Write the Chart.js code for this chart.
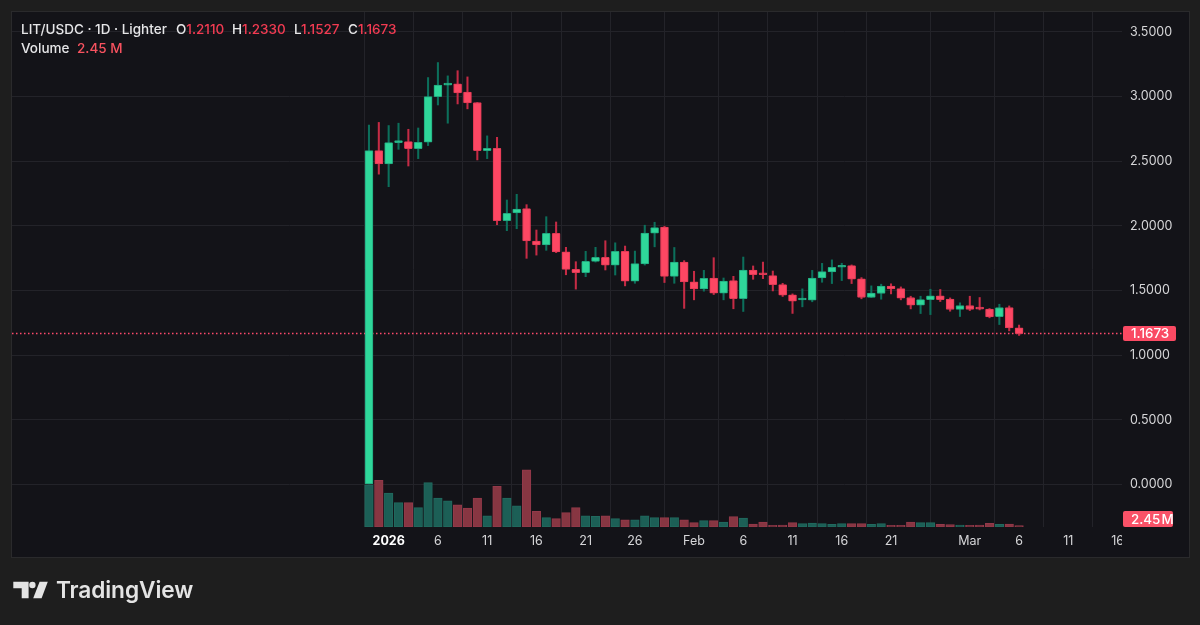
<!DOCTYPE html>
<html>
<head>
<meta charset="utf-8">
<title>LIT/USDC</title>
<script src="https://cdn.jsdelivr.net/npm/chart.js@4"></script>
<style>
  html, body { margin: 0; padding: 0; background: #1e1e1e; }
  #wrap { position: relative; width: 1200px; height: 625px; overflow: hidden; font-family: Inter, sans-serif; }
  #panel { position: absolute; left: 11px; top: 11px; width: 1177px; height: 545px; background: #131318; border: 1px solid #2a2a2c; }
  canvas { position: absolute; left: 0; top: 0; }
  .hd { position: absolute; font-size: 13.5px; font-weight: 500; line-height: 18px; color: #e6e6e8; white-space: nowrap; }
  .red { color: #f23b52; }
  .vol { color: #f7525f; }
  #brand { position: absolute; left: 56px; top: 575px; font-size: 22.7px; font-weight: 600; line-height: 30px; letter-spacing: -0.1px; color: #e4e4e4; }
  #mark { position: absolute; left: 0; top: 570px; }
</style>
</head>
<body>
<div id="wrap">
  <div id="panel"></div>
  <canvas id="chart" width="1200" height="625"></canvas>
  <span class="hd" style="left:21px;top:20px">LIT/USDC · 1D · Lighter</span>
  <span class="hd" style="left:176px;top:20px">O<span class="red">1.2110</span></span>
  <span class="hd" style="left:232px;top:20px">H<span class="red">1.2330</span></span>
  <span class="hd" style="left:294px;top:20px">L<span class="red">1.1527</span></span>
  <span class="hd" style="left:348px;top:20px">C<span class="red">1.1673</span></span>
  <span class="hd" style="left:21px;top:39px">Volume</span>
  <span class="hd vol" style="left:77px;top:39px">2.45 M</span>
  <svg id="mark" width="60" height="40" viewBox="0 570 60 40">
    <path fill="#e4e4e4" d="M13.3 581.7H28.6V598.3H21.7V588.3H13.3Z"/>
    <circle fill="#e4e4e4" cx="32.4" cy="585" r="3.2"/>
    <path fill="#e4e4e4" d="M39.6 581.7H47.8L41.6 598.3H33.2Z"/>
  </svg>
  <div id="brand">TradingView</div>
</div>
<script>
// one candle per day, 30 Dec 2025 to 6 Mar 2026
const dates = ['Dec 30','Dec 31',
  'Jan 1','Jan 2','Jan 3','Jan 4','Jan 5','Jan 6','Jan 7','Jan 8','Jan 9','Jan 10','Jan 11','Jan 12','Jan 13','Jan 14','Jan 15','Jan 16',
  'Jan 17','Jan 18','Jan 19','Jan 20','Jan 21','Jan 22','Jan 23','Jan 24','Jan 25','Jan 26','Jan 27','Jan 28','Jan 29','Jan 30','Jan 31',
  'Feb 1','Feb 2','Feb 3','Feb 4','Feb 5','Feb 6','Feb 7','Feb 8','Feb 9','Feb 10','Feb 11','Feb 12','Feb 13','Feb 14','Feb 15','Feb 16',
  'Feb 17','Feb 18','Feb 19','Feb 20','Feb 21','Feb 22','Feb 23','Feb 24','Feb 25','Feb 26','Feb 27','Feb 28',
  'Mar 1','Mar 2','Mar 3','Mar 4','Mar 5','Mar 6'];

const opens = [0.000,2.582,2.479,2.644,2.652,2.598,2.647,3.000,3.088,3.098,3.034,2.954,2.582,2.600,2.040,2.100,2.133,1.883,
  1.852,1.942,1.800,1.664,1.638,1.725,1.756,1.697,1.803,1.572,1.705,1.944,1.990,1.610,1.720,
  1.567,1.513,1.597,1.479,1.577,1.438,1.659,1.630,1.615,1.546,1.467,1.427,1.426,1.597,1.644,1.680,
  1.693,1.590,1.446,1.477,1.534,1.515,1.446,1.387,1.430,1.459,1.433,1.354,
  1.384,1.360,1.356,1.298,1.369,1.2110];
const highs = [2.780,2.800,2.776,2.794,2.747,2.757,3.147,3.263,3.160,3.200,3.152,2.954,2.696,2.685,2.200,2.244,2.164,1.968,
  2.071,2.030,1.834,1.723,1.803,1.834,1.885,1.869,1.844,1.805,2.005,2.028,1.997,1.833,1.731,
  1.649,1.656,1.754,1.597,1.610,1.759,1.690,1.720,1.651,1.556,1.474,1.513,1.656,1.710,1.737,1.711,
  1.698,1.600,1.536,1.549,1.552,1.528,1.456,1.456,1.510,1.508,1.443,1.405,
  1.456,1.446,1.361,1.394,1.381,1.2330];
const lows = [0.000,2.400,2.303,2.592,2.463,2.520,2.621,2.935,2.794,2.943,2.905,2.510,2.520,2.009,1.963,1.978,1.749,1.774,
  1.811,1.793,1.622,1.511,1.607,1.720,1.659,1.620,1.536,1.556,1.697,1.838,1.562,1.556,1.362,
  1.428,1.495,1.469,1.428,1.359,1.338,1.587,1.592,1.497,1.454,1.323,1.374,1.413,1.564,1.554,1.577,
  1.554,1.436,1.446,1.433,1.474,1.428,1.358,1.322,1.314,1.415,1.340,1.299,
  1.345,1.350,1.289,1.237,1.188,1.1527];
const closes = [2.582,2.479,2.644,2.650,2.598,2.647,3.000,3.088,3.093,3.028,2.951,2.582,2.600,2.040,2.097,2.130,1.883,1.852,
  1.942,1.798,1.664,1.638,1.725,1.756,1.697,1.803,1.572,1.708,1.944,1.987,1.610,1.720,1.567,
  1.513,1.595,1.479,1.574,1.438,1.659,1.623,1.622,1.546,1.464,1.418,1.433,1.597,1.646,1.680,1.686,
  1.588,1.446,1.480,1.534,1.513,1.441,1.387,1.430,1.459,1.430,1.353,1.384,
  1.353,1.356,1.296,1.369,1.211,1.1673];
// volume in millions
const volumes = [76,84,61,44,44,35,80,52,47,40,34,52,20,73,52,38,103,28,
  17,15,26,35,20,19,20,15,13,13,20,17,17,17,13,
  8,11.4,11.4,9,18.6,16.2,5.4,9,3,3.6,7.8,6,7.2,6,4.8,6,
  6,6,4.8,6,3,3,9,7.8,7.8,4.8,4.2,3.6,
  3,3.6,6.6,4.8,5.4,2.45];

const priceTicks = [0,0.5,1,1.5,2,2.5,3,3.5];
const timeTicks = [2,7,12,17,22,27,33,38,43,48,53,61,66,71,76];
const timeLabels = ['2026','6','11','16','21','26','Feb','6','11','16','21','Mar','6','11','16'];
const lastPrice = 1.1673;
const lastVolume = 2.45;

const UP = '#2fd79a', UP_EDGE = '#22a87f', UP_WICK = '#0c6f5b';
const DOWN = '#fd4763', DOWN_EDGE = '#e03a55', DOWN_WICK = '#c52b45';
const isUp = i => closes[i] >= opens[i];

const X_MIN = -36.24, X_MAX = 76.45;   // pane runs x=12..1122
const Y_MIN = -0.3287, Y_MAX = 3.654;  // pane runs y=12..527
const VOL_MAX = 927;

// badges on the price axis, and the cut-off of the last time label
const axisBits = {
  id: 'axisBits',
  afterDraw(chart) {
    const c = chart.ctx, a = chart.chartArea;
    c.save();
    c.fillStyle = '#131318';
    c.fillRect(a.right, a.bottom + 1, 66, 28);
    const badge = (text, cy, h, w, color) => {
      c.fillStyle = color;
      c.beginPath();
      c.roundRect(a.right + 1, cy - h / 2, w, h, 2);
      c.fill();
      c.fillStyle = '#ffffff';
      c.font = '500 13.4px Inter';
      c.textAlign = 'left';
      c.textBaseline = 'middle';
      c.fillText(text, a.right + 9, cy + 0.5);
    };
    badge(lastPrice.toFixed(4), chart.scales.y.getPixelForValue(lastPrice), 15, 53, '#fa4a63');
    badge(lastVolume.toFixed(2) + '\u200aM', a.bottom - 8, 16, 50, '#fa5268');
    c.restore();
  }
};

new Chart(document.getElementById('chart'), {
  type: 'bar',
  data: {
    labels: dates,
    datasets: [
      {
        label: 'Candles',
        order: 1,
        yAxisID: 'y',
        grouped: false,
        barThickness: 8,
        minBarLength: 2,
        borderWidth: 1,
        borderSkipped: false,
        borderRadius: 1,
        data: dates.map((d, i) => ({ x: i, y: [opens[i], closes[i]] })),
        backgroundColor: dates.map((d, i) => isUp(i) ? UP : DOWN),
        borderColor: dates.map((d, i) => isUp(i) ? UP_EDGE : DOWN_EDGE)
      },
      {
        label: 'Wicks',
        order: 2,
        yAxisID: 'y',
        grouped: false,
        barThickness: 1.4,
        borderWidth: 0,
        data: dates.map((d, i) => ({ x: i, y: [lows[i], highs[i]] })),
        backgroundColor: dates.map((d, i) => isUp(i) ? UP_WICK : DOWN_WICK)
      },
      {
        type: 'line',
        label: 'Last price',
        order: 3,
        yAxisID: 'y',
        data: [{ x: X_MIN, y: lastPrice }, { x: X_MAX, y: lastPrice }],
        borderColor: '#ff4a6c',
        borderWidth: 1.4,
        borderDash: [1.5, 2.5],
        pointRadius: 0
      },
      {
        label: 'Volume',
        order: 4,
        yAxisID: 'yVol',
        grouped: false,
        barThickness: 8.6,
        borderWidth: 1,
        borderSkipped: false,
        data: dates.map((d, i) => ({ x: i, y: volumes[i] })),
        backgroundColor: dates.map((d, i) => isUp(i) ? '#1c5f56' : '#873642'),
        borderColor: dates.map((d, i) => isUp(i) ? '#216a5f' : '#94394a')
      }
    ]
  },
  options: {
    animation: false,
    responsive: false,
    events: [],
    layout: { padding: { left: 12, top: 12, right: 12, bottom: 69 } },
    plugins: { legend: { display: false }, tooltip: { enabled: false } },
    scales: {
      x: {
        type: 'linear',
        min: X_MIN,
        max: X_MAX,
        offset: false,
        grid: { color: '#232329', lineWidth: 1, drawTicks: false },
        border: { display: false },
        afterBuildTicks: s => { s.ticks = timeTicks.map(v => ({ value: v })); },
        afterFit: s => { s.height = 29; s.paddingLeft = 0; s.paddingRight = 0; },
        ticks: {
          autoSkip: false,
          maxRotation: 0,
          padding: 7,
          color: ctx => ctx.index === 0 ? '#ffffff' : '#d6d6d8',
          font: ctx => ({ family: 'Inter', size: 12.5, weight: ctx.index === 0 ? '700' : '400' }),
          callback: (v, i) => timeLabels[i]
        }
      },
      y: {
        position: 'right',
        min: Y_MIN,
        max: Y_MAX,
        grid: { color: '#232329', lineWidth: 1, drawTicks: false },
        border: { display: false },
        afterBuildTicks: s => { s.ticks = priceTicks.map(v => ({ value: v })); },
        afterFit: s => { s.width = 66; s.paddingTop = 0; s.paddingBottom = 0; },
        ticks: {
          padding: 8,
          color: '#d6d6d8',
          font: { family: 'Inter', size: 12.5 },
          callback: v => v.toFixed(4)
        }
      },
      yVol: {
        display: false,
        min: 0,
        max: VOL_MAX
      }
    }
  },
  plugins: [axisBits]
});
</script>
</body>
</html>
